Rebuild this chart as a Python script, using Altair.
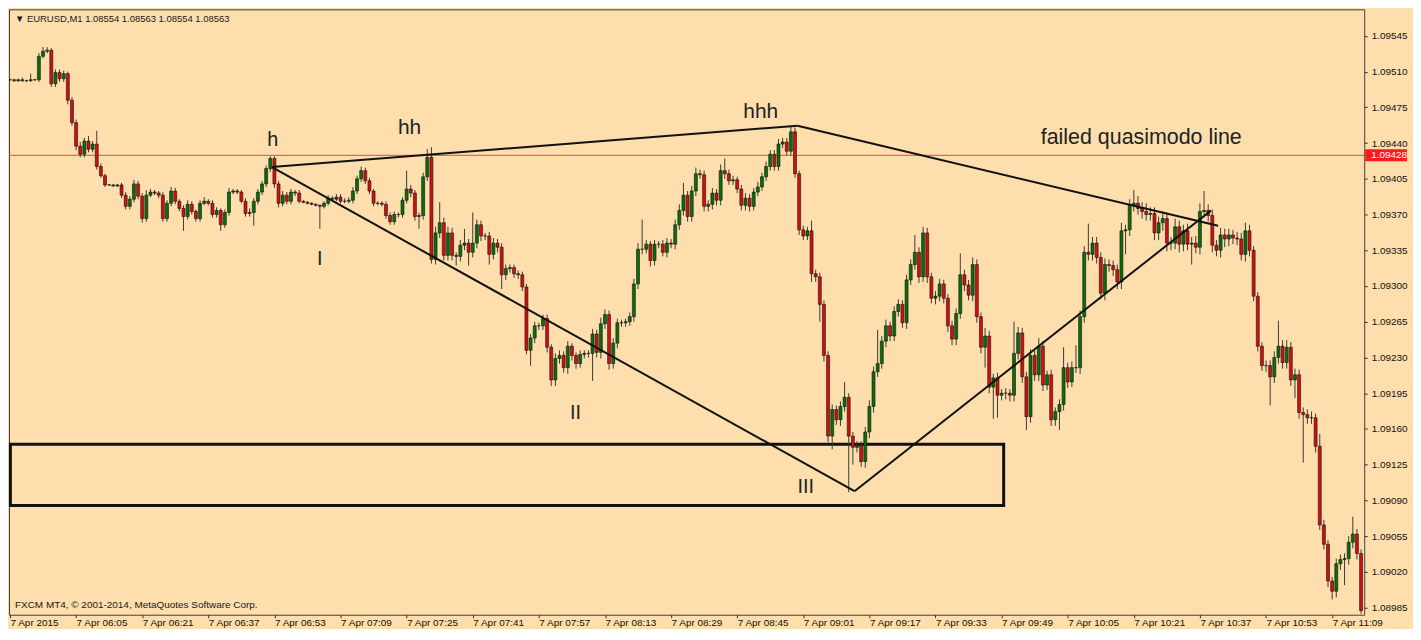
import altair as alt
import pandas as pd

# ---- candle data (prices in points, 1 point = 0.00001) ----
open_first_pts = 109502
close_pts = [
    109502,109501,109502,109501,109501,109502,109502,109525,109530,109531,109498,109509,109503,109508,109482,109460,109437,109429,109442,109434,
    109439,109417,109408,109399,109399,109398,109399,109389,109378,109385,109400,109388,109366,109389,109392,109391,109389,109366,109381,109393,
    109383,109376,109368,109380,109373,109366,109381,109383,109381,109370,109374,109360,109372,109392,109393,109392,109383,109371,109372,109383,
    109392,109400,109415,109425,109400,109381,109389,109383,109392,109391,109383,109382,109381,109380,109379,109378,109381,109386,109385,109387,
    109383,109383,109384,109393,109405,109413,109403,109393,109381,109381,109380,109369,109363,109370,109370,109384,109395,109391,109368,109369,
    109407,109426,109326,109352,109362,109330,109352,109330,109329,109340,109342,109333,109342,109360,109349,109349,109331,109342,109338,109311,
    109317,109318,109312,109311,109299,109237,109249,109261,109261,109268,109240,109208,109229,109232,109220,109241,109232,109224,109233,109234,
    109234,109253,109235,109263,109272,109224,109244,109264,109264,109265,109270,109302,109336,109336,109341,109325,109341,109341,109333,109342,
    109341,109360,109374,109389,109368,109393,109410,109409,109378,109380,109391,109384,109413,109410,109403,109404,109395,109379,109386,109378,
    109392,109397,109407,109417,109429,109417,109439,109441,109432,109451,109410,109355,109349,109354,109312,109309,109282,109232,109153,109179,
    109169,109182,109191,109153,109142,109144,109128,109157,109182,109216,109224,109246,109261,109251,109275,109282,109264,109306,109321,109333,
    109309,109352,109309,109288,109290,109302,109288,109261,109248,109273,109311,109301,109291,109321,109270,109240,109251,109201,109210,109193,
    109195,109195,109193,109234,109254,109211,109172,109232,109213,109241,109203,109213,109169,109177,109184,109220,109206,109220,109220,109270,
    109333,109331,109342,109328,109293,109321,109320,109316,109304,109354,109355,109379,109381,109376,109373,109370,109371,109352,109362,109366,
    109342,109342,109358,109341,109354,109341,109342,109338,109373,109374,109369,109340,109335,109350,109346,109350,109347,109346,109331,109354,
    109335,109290,109241,109222,109222,109211,109230,109241,109225,109240,109208,109213,109176,109174,109171,109171,109143,109066,109047,109011,
    109001,109028,109032,109033,109049,109057,109038,108982,
]
up_wick_pts = [
    1,1,1,2,1,6,1,3,4,3,2,3,3,3,2,3,3,4,3,5,
    3,13,3,2,1,1,1,2,3,3,4,3,3,5,3,2,2,3,3,4,
    3,2,3,4,3,2,3,4,2,3,3,2,3,4,2,2,2,3,4,3,
    3,3,3,2,2,3,4,3,3,2,3,1,1,1,1,1,2,3,2,3,
    3,3,3,4,3,4,3,3,2,2,2,3,3,3,2,3,18,4,3,3,
    4,8,10,6,20,5,6,5,3,5,14,4,30,5,4,3,4,5,4,4,
    4,3,3,3,3,3,4,4,3,4,4,3,5,5,4,5,3,3,4,3,
    3,5,4,6,5,4,5,4,3,3,4,5,6,29,4,3,4,3,4,5,
    4,5,6,12,4,5,6,4,4,4,5,4,6,12,4,4,3,4,5,4,
    4,5,4,5,4,4,5,4,4,5,4,3,4,4,10,4,4,4,4,5,
    4,5,15,4,4,4,4,5,6,5,33,5,6,4,5,5,4,5,5,17,
    5,6,5,4,5,5,4,4,5,5,21,5,5,7,5,4,8,5,4,5,
    4,5,4,31,6,5,5,6,5,8,5,4,5,4,5,20,5,6,22,6,
    6,28,6,6,5,6,5,5,5,8,5,6,13,7,6,8,6,6,6,7,
    6,6,8,6,6,7,6,7,8,19,6,6,5,7,6,6,5,6,6,8,
    6,4,4,4,5,5,6,25,6,7,5,6,5,5,5,6,4,12,5,4,
    4,5,5,5,6,17,5,4,
]
dn_wick_pts = [
    1,1,1,1,1,1,1,2,2,2,3,3,3,3,4,3,4,3,3,3,
    3,3,2,2,1,1,1,3,3,3,3,3,4,3,2,2,3,3,3,3,
    3,3,14,3,3,3,3,2,2,3,3,6,3,3,2,2,2,3,3,13,
    3,3,3,3,4,4,3,3,3,3,2,1,1,1,1,22,2,2,2,2,
    2,2,2,3,3,3,3,3,3,2,2,3,3,3,3,3,3,4,4,12,
    4,4,4,5,5,5,5,5,9,5,5,13,5,5,5,4,10,5,5,14,
    5,4,4,4,4,4,15,5,4,4,5,6,6,5,5,6,5,5,4,4,
    4,27,5,6,5,6,5,5,4,4,4,5,5,5,4,6,5,4,4,5,
    4,5,5,5,5,5,5,4,5,5,5,5,5,5,4,4,4,5,5,5,
    4,4,4,4,4,4,4,4,4,4,4,5,4,4,8,5,17,6,6,13,
    5,6,5,55,17,5,5,6,6,6,5,5,6,5,5,5,5,6,5,5,
    6,5,6,5,6,5,5,6,6,6,5,6,5,6,6,6,20,6,31,22,
    5,6,6,6,6,6,13,6,6,6,6,5,6,6,18,6,6,5,5,6,
    6,6,6,6,6,7,6,6,7,7,23,6,6,6,7,6,6,7,7,8,
    8,7,6,8,7,6,20,6,7,6,6,7,6,7,8,7,6,6,6,7,
    6,5,5,5,6,28,6,6,6,6,6,18,6,47,6,6,6,5,5,6,
    8,6,6,25,6,6,6,3,
]

# ---- axes ----
x_tick_values = [0, 16, 32, 48, 64, 80, 96, 112, 128, 144, 160, 176, 192, 208, 224, 240, 256, 272, 288, 304, 320]
x_tick_labels = ["7 Apr 2015", "7 Apr 06:05", "7 Apr 06:21", "7 Apr 06:37", "7 Apr 06:53", "7 Apr 07:09",
                 "7 Apr 07:25", "7 Apr 07:41", "7 Apr 07:57", "7 Apr 08:13", "7 Apr 08:29", "7 Apr 08:45",
                 "7 Apr 09:01", "7 Apr 09:17", "7 Apr 09:33", "7 Apr 09:49", "7 Apr 10:05", "7 Apr 10:21",
                 "7 Apr 10:37", "7 Apr 10:53", "7 Apr 11:09"]
y_tick_values = [1.08985, 1.09020, 1.09055, 1.09090, 1.09125, 1.09160, 1.09195, 1.09230, 1.09265,
                 1.09300, 1.09335, 1.09370, 1.09405, 1.09440, 1.09475, 1.09510, 1.09545]
level_price = 1.09428

# ---- drawn annotations (bar index, price) ----
seg_i1 = [63.4, 190.6, 63.4, 204.4]
seg_p1 = [1.094165, 1.09457, 1.094165, 1.09099]
seg_i2 = [190.6, 292.4, 204.4, 290.7]
seg_p2 = [1.09457, 1.09359, 1.09099, 1.09374]
box_i = [0.1, 240.5]
box_p = [1.09085, 1.09145]
ann_text = ["h", "hh", "hhh", "failed quasimodo line", "I", "II", "III"]
ann_i = [63.6, 96.7, 181.7, 273.8, 75.0, 136.9, 192.6]
ann_p = [1.09443, 1.09455, 1.09470, 1.09445, 1.09326, 1.09176, 1.09103]
ann_size = [20, 21, 21, 21.5, 20, 20, 20]

header_text = "▼ EURUSD,M1  1.08554 1.08563 1.08554 1.08563"
footer_text = "FXCM MT4, © 2001-2014, MetaQuotes Software Corp."

# ---- build table ----
n = len(close_pts)
opens = [open_first_pts] + close_pts[:-1]
rows = []
for k in range(n):
    o, c = opens[k], close_pts[k]
    rows.append({
        "i": k,
        "p": min(o, c) / 1e5 - dn_wick_pts[k] / 1e5,
        "p2": max(o, c) / 1e5 + up_wick_pts[k] / 1e5,
        "open": o / 1e5,
        "close": c / 1e5,
        "dir": "up" if c > o else ("down" if c < o else "flat"),
    })
df = pd.DataFrame(rows)

seg_df = pd.DataFrame({"i": seg_i1, "p": seg_p1, "i2": seg_i2, "p2": seg_p2})
box_df = pd.DataFrame({"i": [box_i[0]], "i2": [box_i[1]], "p": [box_p[0]], "p2": [box_p[1]]})
ann_df = pd.DataFrame({"i": ann_i, "p": ann_p, "t": ann_text, "s": ann_size})

W, H = 1361, 608
FONT = "Liberation Sans, DejaVu Sans, Arial"

label_js = "[" + ",".join("'" + s + "'" for s in x_tick_labels) + "]"
xscale = alt.Scale(domain=[-0.24, 327.76], nice=False, zero=False, padding=0)
yscale = alt.Scale(domain=[1.08978, 1.09571], nice=False, zero=False, padding=0)
xaxis = alt.Axis(values=x_tick_values, labelExpr=label_js + "[round(datum.value/16)]",
                 labelAlign="left", labelFontSize=10, labelFont=FONT, labelColor="#111",
                 tickSize=3, tickColor="#333", labelPadding=0, domain=False, grid=False,
                 title=None, labelFlush=False, labelOverlap=False, labelBound=False)
yaxis = alt.Axis(orient="right", values=y_tick_values, format=".5f", domain=False, grid=False,
                 tickSize=3, tickColor="#333", labelColor="#111", labelFontSize=10,
                 labelFont=FONT, labelPadding=4, title=None, labelOverlap=False, labelFlush=False)

def X(f):
    return alt.X(f, type="quantitative", scale=xscale, axis=xaxis)

def Y(f):
    return alt.Y(f, type="quantitative", scale=yscale, axis=yaxis)

base = alt.Chart(df)
wicks = base.mark_rule(color="#3a3a3a", strokeWidth=1, clip=True).encode(
    x=X("i"), y=Y("p"), y2="p2")
bodies = base.mark_bar(size=3, stroke="#111", strokeWidth=0.6, clip=True).encode(
    x=X("i"), y=Y("open"), y2="close",
    color=alt.Color("dir:N", scale=alt.Scale(domain=["up", "down", "flat"],
                                              range=["#0a6e0a", "#d40f0f", "#111111"]), legend=None))

level_line = alt.Chart(pd.DataFrame({"v": [level_price]})).mark_rule(
    color="#ff3b3b", strokeWidth=1).encode(y=Y("v"))
level_box = alt.Chart(pd.DataFrame({"v": [level_price]})).mark_rule(
    color="#ff1a1a", strokeWidth=12, strokeCap="butt").encode(
    x=alt.value(W + 1), x2=alt.value(W + 43), y=Y("v"))
level_text = alt.Chart(pd.DataFrame({"v": [level_price], "t": ["%.5f" % level_price]})).mark_text(
    color="white", fontSize=10, font=FONT, align="left", baseline="middle").encode(
    x=alt.value(W + 7), y=Y("v"), text="t:N")

segs = alt.Chart(seg_df).mark_rule(color="#111", strokeWidth=2).encode(
    x=X("i"), y=Y("p"), x2="i2", y2="p2")
box = alt.Chart(box_df).mark_rect(fillOpacity=0, stroke="#111", strokeWidth=3).encode(
    x=X("i"), x2="i2", y=Y("p"), y2="p2")
anns = alt.Chart(ann_df).mark_text(color="#222", font=FONT, baseline="middle", align="center").encode(
    x=X("i"), y=Y("p"), text="t:N", size=alt.Size("s:Q", scale=None, legend=None))

header = alt.Chart(pd.DataFrame({"t": [header_text]})).mark_text(
    color="#1a1a1a", fontSize=9.5, font=FONT, align="left", baseline="middle").encode(
    x=alt.value(6), y=alt.value(10), text="t:N")
footer = alt.Chart(pd.DataFrame({"t": [footer_text]})).mark_text(
    color="#1a1a1a", fontSize=10, font=FONT, align="left", baseline="middle").encode(
    x=alt.value(6), y=alt.value(H - 10), text="t:N")

chart = alt.layer(level_line, box, wicks, bodies, segs, anns, header, footer,
                  level_box, level_text).properties(
    width=W, height=H, background="#FDDEAC",
    padding={"left": 0, "top": 0, "right": 0, "bottom": 0}
).configure_view(stroke="#404040", strokeWidth=1)

chart.save("out.html", embed_options={"renderer": "svg", "actions": False})
